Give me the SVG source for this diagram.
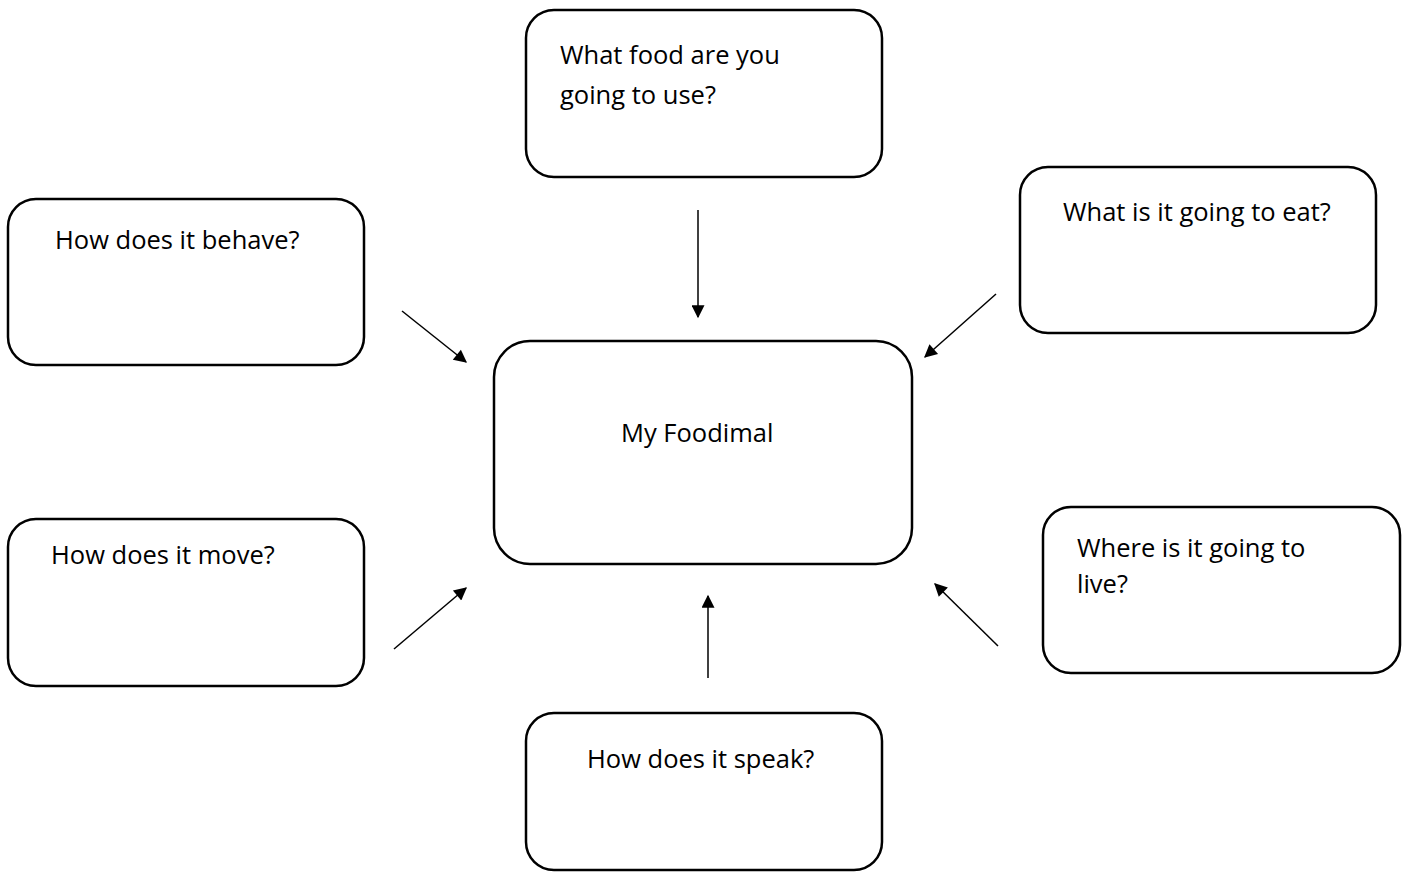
<svg xmlns="http://www.w3.org/2000/svg" width="1408" height="872" viewBox="0 0 1408 872">
<style>
.box{fill:#fff;stroke:#000;stroke-width:2.5}
.t{font-family:"Open Sans","Noto Sans","Liberation Sans",sans-serif;font-size:25.5px;fill:#000}
.c{stroke:#000;stroke-width:1.5;fill:none;marker-end:url(#ah)}
</style>
<defs>
<marker id="ah" viewBox="0 0 10 10" refX="9" refY="5" markerWidth="15" markerHeight="13" markerUnits="userSpaceOnUse" orient="auto">
<path d="M0,0 L10,5 L0,10 z" fill="#000"/>
</marker>
</defs>
<rect width="1408" height="872" fill="#fff"/>
<g id="node-food"><rect class="box" x="526" y="10" width="356" height="167" rx="28"/><text class="t" x="560" y="64">What food are you</text><text class="t" x="560" y="104">going to use?</text></g>
<g id="node-behave"><rect class="box" x="8" y="199" width="356" height="166" rx="28"/><text class="t" x="55" y="249">How does it behave?</text></g>
<g id="node-eat"><rect class="box" x="1020" y="167" width="356" height="166" rx="28"/><text class="t" x="1063" y="221">What is it going to eat?</text></g>
<g id="node-center"><rect class="box" x="494" y="341" width="418" height="223" rx="36"/><text class="t" x="621" y="442">My Foodimal</text></g>
<g id="node-move"><rect class="box" x="8" y="519" width="356" height="167" rx="28"/><text class="t" x="51" y="564">How does it move?</text></g>
<g id="node-live"><rect class="box" x="1043" y="507" width="357" height="166" rx="28"/><text class="t" x="1077" y="557">Where is it going to</text><text class="t" x="1077" y="593">live?</text></g>
<g id="node-speak"><rect class="box" x="526" y="713" width="356" height="157" rx="28"/><text class="t" x="587" y="768">How does it speak?</text></g>
<g id="connectors">
<line class="c" x1="698" y1="210" x2="698" y2="317"/>
<line class="c" x1="402" y1="311" x2="466" y2="362"/>
<line class="c" x1="996" y1="294" x2="925" y2="357"/>
<line class="c" x1="394" y1="649" x2="466" y2="588"/>
<line class="c" x1="708" y1="678" x2="708" y2="596"/>
<line class="c" x1="998" y1="646" x2="935" y2="584"/>
</g>
</svg>
